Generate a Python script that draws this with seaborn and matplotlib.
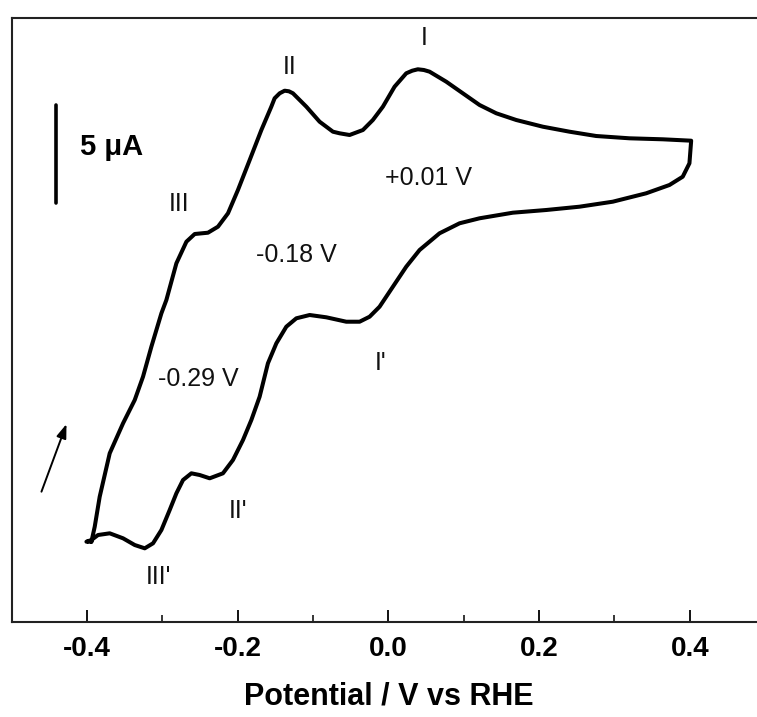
import numpy as np
import pandas as pd
import matplotlib
matplotlib.use("Agg")
import matplotlib.pyplot as plt
from matplotlib.ticker import MultipleLocator
import seaborn as sns

# Cyclic voltammogram: anodic (forward) sweep from -0.40 V up to +0.40 V
forward_potential = [
    -0.3942, -0.3898, -0.3832, -0.3699, -0.3522, -0.3367, -0.3257, -0.3146,
    -0.3013, -0.2947, -0.2814, -0.2681, -0.2571, -0.2395, -0.2262, -0.2129,
    -0.1997, -0.1841, -0.1686, -0.1554, -0.1510, -0.1443, -0.1377, -0.1320,
    -0.1267, -0.1089, -0.0913, -0.0736, -0.0647, -0.0515, -0.0338, -0.0206,
    -0.0073, 0.0082, 0.0237, 0.0317, 0.0391, 0.0471, 0.0547, 0.0768,
    0.0988, 0.1210, 0.1432, 0.1697, 0.2050, 0.2404, 0.2758, 0.3200,
    0.3642, 0.4019,
]
forward_current = [
    -8.225, -7.462, -5.936, -3.728, -2.202, -1.017, 0.168, 1.694,
    3.393, 4.069, 5.936, 7.035, 7.426, 7.492, 7.798, 8.479,
    9.664, 11.190, 12.716, 13.902, 14.329, 14.583, 14.715, 14.685,
    14.583, 13.902, 13.138, 12.630, 12.548, 12.462, 12.716, 13.225,
    13.902, 14.919, 15.600, 15.733, 15.804, 15.768, 15.682, 15.173,
    14.583, 13.988, 13.566, 13.225, 12.884, 12.630, 12.411, 12.294,
    12.243, 12.172,
]

# Cathodic (reverse) sweep back from +0.40 V to -0.40 V
reverse_potential = [
    0.4019, 0.3996, 0.3907, 0.3731, 0.3422, 0.2978, 0.2537, 0.2095,
    0.1652, 0.1210, 0.0945, 0.0679, 0.0414, 0.0237, 0.0060, -0.0117,
    -0.0249, -0.0382, -0.0559, -0.0824, -0.1045, -0.1222, -0.1355, -0.1487,
    -0.1599, -0.1709, -0.1819, -0.1930, -0.2063, -0.2196, -0.2372, -0.2505,
    -0.2615, -0.2726, -0.2814, -0.2903, -0.3013, -0.3124, -0.3234, -0.3367,
    -0.3522, -0.3699, -0.3854, -0.3942, -0.4008, -0.3942,
]
reverse_current = [
    12.172, 11.022, 10.341, 9.919, 9.497, 9.069, 8.815, 8.647,
    8.510, 8.225, 7.971, 7.462, 6.612, 5.763, 4.746, 3.728,
    3.220, 2.965, 2.965, 3.189, 3.306, 3.138, 2.711, 1.867,
    0.849, -0.849, -2.035, -3.052, -4.069, -4.746, -5.000, -4.832,
    -4.746, -5.087, -5.763, -6.612, -7.630, -8.306, -8.561, -8.393,
    -8.052, -7.798, -7.884, -8.138, -8.225, -8.225,
]

# Peak labels and formal potentials
peak_labels = ["I", "II", "III", "I'", "II'", "III'"]
peak_label_x = [0.0480, -0.1311, -0.2783, -0.0103, -0.2001, -0.3049]
peak_label_y = [17.40, 15.92, 8.95, 0.865, -6.66, -10.02]

e_half_labels = ["+0.01 V", "-0.18 V", "-0.29 V"]
e_half_x = [0.0533, -0.1218, -0.2518]
e_half_y = [10.27, 6.36, 0.05]

xtick_values = [-0.4, -0.2, 0.0, 0.2, 0.4]
scale_bar_uA = 5

sns.set_theme(style="white")
plt.rcParams["font.family"] = ["Liberation Sans", "DejaVu Sans"]
plt.rcParams["axes.unicode_minus"] = False

fig = plt.figure(figsize=(7.57, 7.17), dpi=100)
ax = fig.add_axes([0.01546, 0.1329, 0.9952, 0.842])

cv = pd.concat([
    pd.DataFrame({"E": forward_potential, "I": forward_current, "sweep": "fwd"}),
    pd.DataFrame({"E": reverse_potential, "I": reverse_current, "sweep": "rev"}),
], ignore_index=True)

sns.lineplot(data=cv, x="E", y="I", sort=False, estimator=None,
             color="black", lw=2.9, ax=ax, solid_joinstyle="round",
             solid_capstyle="round")

ax.set_xlim(-0.5, 0.5)
ax.set_ylim(-12.294, 18.413)

# 5 uA scale bar
bar_x = -0.4415
bar_y0 = 8.99
ax.plot([bar_x, bar_x], [bar_y0, bar_y0 + scale_bar_uA], color="black",
        lw=2.6, solid_capstyle="round")
ax.text(-0.4097, bar_y0 + scale_bar_uA / 2 + 0.35, f"{scale_bar_uA} \u03bcA",
        fontsize=21, fontweight="bold", ha="left", va="center", color="black")

# Sweep direction arrow
ax.annotate("", xy=(-0.4273, -2.24), xytext=(-0.4605, -5.68),
            arrowprops=dict(arrowstyle="-|>,head_length=0.7,head_width=0.25",
                            color="black", lw=1.4, shrinkA=0, shrinkB=0))

for lab, x, y in zip(peak_labels, peak_label_x, peak_label_y):
    ax.text(x, y, lab, fontsize=18, ha="center", va="center", color="#111111")
for lab, x, y in zip(e_half_labels, e_half_x, e_half_y):
    ax.text(x, y, lab, fontsize=18, ha="center", va="center", color="#111111")

ax.set_xticks(xtick_values)
ax.set_xticklabels([f"{v:.1f}" for v in xtick_values], fontsize=20,
                   fontweight="bold")
ax.xaxis.set_minor_locator(MultipleLocator(0.1))
ax.set_yticks([])
ax.tick_params(axis="x", which="major", direction="in", length=8.5, width=1.3,
               pad=10, colors="black", bottom=True, top=False)
ax.tick_params(axis="x", which="minor", direction="in", length=5, width=1.3,
               bottom=True, top=False)

ax.set_xlabel("Potential / V vs RHE", fontsize=22, fontweight="bold",
              labelpad=14, color="black")
ax.set_ylabel("")

for side in ["left", "bottom", "top", "right"]:
    ax.spines[side].set_color("#222222")
    ax.spines[side].set_linewidth(1.5)

fig.savefig("out.png", dpi=100)
